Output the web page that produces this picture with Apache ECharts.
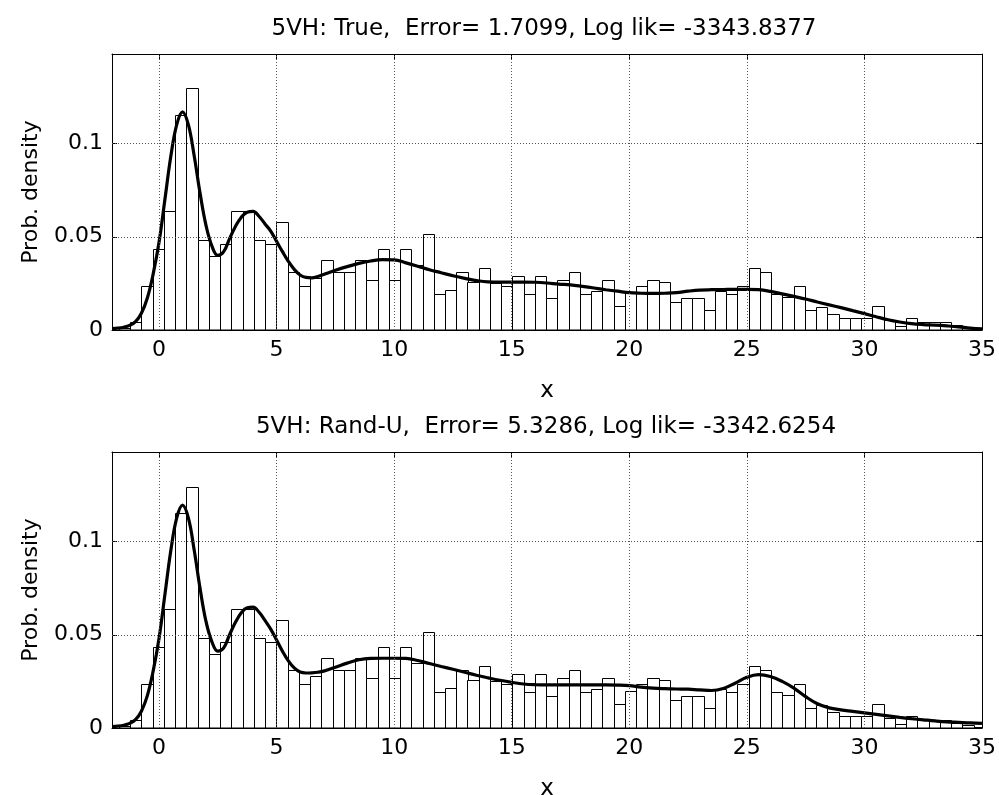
<!DOCTYPE html>
<html>
<head>
<meta charset="utf-8">
<script src="https://cdn.jsdelivr.net/npm/echarts@6/dist/echarts.min.js"></script>
<style>
html,body{margin:0;padding:0;background:#fff;}
#chart{width:999px;height:795px;}
</style>
</head>
<body>
<div id="chart"></div>
<script>
// ---------- data ----------
const titleTop = '5VH: True,  Error= 1.7099, Log lik= -3343.8377';
const titleBottom = '5VH: Rand-U,  Error= 5.3286, Log lik= -3342.6254';
const xTicks = [0, 5, 10, 15, 20, 25, 30, 35];
const xGrid = [0, 5, 10, 15, 20, 25, 30];
const yTicks = [0, 0.05, 0.1];
const yGrid = [0.05, 0.1];
const BIN_W = 0.4783;

// histogram bin centres
const binCenters = [-1.469,-0.991,-0.513,-0.034,0.444,0.922,1.401,1.879,2.357,2.836,
 3.314,3.792,4.270,4.749,5.227,5.705,6.184,6.662,7.140,7.618,
 8.097,8.575,9.053,9.532,10.010,10.488,10.967,11.445,11.923,12.401,
 12.880,13.358,13.836,14.315,14.793,15.271,15.750,16.228,16.706,17.184,
 17.663,18.141,18.619,19.098,19.576,20.054,20.532,21.011,21.489,21.967,
 22.446,22.924,23.402,23.881,24.359,24.837,25.315,25.794,26.272,26.750,
 27.229,27.707,28.185,28.664,29.142,29.620,30.098,30.577,31.055,31.533,
 32.012,32.490,32.968,33.446,33.925,34.403,34.881];
// histogram densities (same data in both panels)
const binHeights = [0.0010,0.0041,0.0234,0.0437,0.0639,0.1155,0.1295,0.0480,0.0395,0.0459,
 0.0639,0.0639,0.0480,0.0459,0.0577,0.0309,0.0234,0.0280,0.0373,0.0309,
 0.0309,0.0373,0.0266,0.0437,0.0266,0.0437,0.0350,0.0513,0.0191,0.0213,
 0.0309,0.0258,0.0330,0.0250,0.0234,0.0288,0.0191,0.0288,0.0170,0.0266,
 0.0309,0.0191,0.0210,0.0266,0.0127,0.0198,0.0234,0.0266,0.0255,0.0148,
 0.0170,0.0170,0.0105,0.0210,0.0191,0.0234,0.0330,0.0309,0.0195,0.0175,
 0.0234,0.0105,0.0125,0.0084,0.0063,0.0063,0.0063,0.0127,0.0055,0.0021,
 0.0063,0.0041,0.0041,0.0041,0.0027,0.0014,0.0005];

// fitted density, top panel (True)
const curveTopX = [-2.0,-1.75,-1.5,-1.25,-1.0,-0.75,-0.5,-0.25,0.0,0.25,0.5,0.75,1.0,1.25,1.5,1.75,2.0,2.25,2.5,2.75,
 3.0,3.25,3.5,3.75,4.0,4.25,4.5,4.75,5.0,5.25,5.5,5.75,6.0,6.25,6.5,6.75,7.0,7.5,
 8.0,8.5,9.0,9.5,10.0,10.5,11.0,11.5,12.0,12.5,13.0,13.5,14.0,14.5,15.0,15.5,16.0,16.5,17.0,17.5,18.0,18.5,
 19.0,19.5,20.0,20.5,21.0,21.5,22.0,22.5,23.0,23.5,24.0,24.5,25.0,25.5,26.0,26.5,27.0,27.5,28.0,28.5,
 29.0,29.5,30.0,30.5,31.0,31.5,32.0,32.5,33.0,33.5,34.0,34.5,35.0];
const curveTopY = [0.0008,0.0010,0.0015,0.0025,0.0045,0.0090,0.0170,0.0300,0.0470,0.0700,0.0930,0.1100,0.1170,0.1100,0.0930,0.0730,0.0560,0.0450,0.0400,0.0420,
 0.0490,0.0555,0.0605,0.0632,0.0636,0.0610,0.0570,0.0530,0.0475,0.0420,0.0368,0.0325,0.0295,0.0282,0.0280,0.0287,0.0298,0.0320,
 0.0340,0.0357,0.0370,0.0377,0.0376,0.0360,0.0342,0.0323,0.0307,0.0291,0.0277,0.0265,0.0258,0.0257,0.0257,0.0257,0.0256,0.0252,0.0246,0.0242,0.0234,0.0225,
 0.0216,0.0208,0.0200,0.0197,0.0196,0.0197,0.0200,0.0208,0.0214,0.0216,0.0217,0.0218,0.0218,0.0216,0.0207,0.0194,0.0180,0.0166,0.0150,0.0135,
 0.0120,0.0104,0.0088,0.0071,0.0055,0.0043,0.0034,0.0029,0.0026,0.0022,0.0017,0.0010,0.0006];

// fitted density, bottom panel (Rand-U)
const curveBotX = [-2.0,-1.75,-1.5,-1.25,-1.0,-0.75,-0.5,-0.25,0.0,0.25,0.5,0.75,1.0,1.25,1.5,1.75,2.0,2.25,2.5,2.75,
 3.0,3.25,3.5,3.75,4.0,4.25,4.5,4.75,5.0,5.25,5.5,5.75,6.0,6.25,6.5,6.75,7.0,7.5,
 8.0,8.5,9.0,9.5,10.0,10.5,11.0,11.5,12.0,12.5,13.0,13.5,14.0,14.5,15.0,15.5,16.0,16.5,17.0,17.5,18.0,18.5,
 19.0,19.5,20.0,20.5,21.0,21.5,22.0,22.5,23.0,23.5,24.0,24.5,25.0,25.5,26.0,26.5,27.0,27.5,28.0,28.5,
 29.0,29.5,30.0,30.5,31.0,31.5,32.0,32.5,33.0,33.5,34.0,34.5,35.0];
const curveBotY = [0.0008,0.0010,0.0015,0.0025,0.0045,0.0090,0.0172,0.0305,0.0480,0.0715,0.0950,0.1125,0.1195,0.1125,0.0950,0.0745,0.0570,0.0462,0.0412,0.0430,
 0.0500,0.0567,0.0618,0.0645,0.0648,0.0622,0.0578,0.0530,0.0472,0.0412,0.0360,0.0322,0.0300,0.0295,0.0296,0.0299,0.0305,0.0326,
 0.0348,0.0366,0.0373,0.0374,0.0374,0.0373,0.0362,0.0346,0.0330,0.0315,0.0299,0.0283,0.0269,0.0256,0.0245,0.0236,0.0232,0.0231,0.0231,0.0231,0.0231,0.0231,
 0.0231,0.0230,0.0227,0.0219,0.0214,0.0211,0.0209,0.0208,0.0204,0.0201,0.0212,0.0240,0.0272,0.0286,0.0276,0.0250,0.0214,0.0168,0.0130,0.0108,
 0.0097,0.0089,0.0081,0.0073,0.0065,0.0057,0.0050,0.0044,0.0038,0.0033,0.0030,0.0027,0.0025];

// ---------- build ----------
const FONT = 'DejaVu Sans, sans-serif';
const chart = echarts.init(document.getElementById('chart'), null, {renderer: 'canvas'});

const grids = [
  {left: 112, top: 54, width: 870, height: 276, containLabel: false, outerBoundsMode: 'none'},
  {left: 112, top: 452, width: 870, height: 276, containLabel: false, outerBoundsMode: 'none'}
];

const xAxes = [], yAxes = [], series = [];
const histData = binCenters.map((c, i) => [c, binHeights[i]]);

function renderBar(params, api) {
  const c = api.value(0), h = api.value(1);
  const p0 = api.coord([c - BIN_W / 2, h]);
  const p1 = api.coord([c + BIN_W / 2, 0]);
  const x0 = Math.round(p0[0]) + 0.5, x1 = Math.round(p1[0]) + 0.5;
  const y0 = Math.round(p0[1]) + 0.5, y1 = Math.round(p1[1]) + 0.5;
  const cs = params.coordSys;
  const r = echarts.graphic.clipRectByRect(
    {x: x0, y: y0, width: x1 - x0, height: y1 - y0},
    {x: cs.x, y: cs.y, width: cs.width, height: cs.height});
  if (!r) return;
  return {type: 'rect', shape: r, style: {fill: '#fff', stroke: '#000', lineWidth: 1}};
}

[0, 1].forEach(gi => {
  const axLine = {show: true, onZero: false, lineStyle: {color: '#000', width: 1}};
  xAxes.push({
    gridIndex: gi, type: 'value', min: -2, max: 35, position: 'bottom',
    axisLine: axLine,
    axisTick: {show: true, inside: true, length: 5, customValues: xTicks, lineStyle: {color: '#000'}},
    axisLabel: {show: true, customValues: xTicks, margin: 9, color: '#000', fontSize: 22, fontFamily: FONT},
    splitLine: {show: false},
    name: 'x', nameLocation: 'middle', nameGap: 50,
    nameTextStyle: {color: '#000', fontSize: 23, fontFamily: FONT}
  });
  xAxes.push({
    gridIndex: gi, type: 'value', min: -2, max: 35, position: 'top',
    axisLine: axLine,
    axisTick: {show: true, inside: true, length: 5, customValues: xTicks, lineStyle: {color: '#000'}},
    axisLabel: {show: false}, splitLine: {show: false}
  });
  yAxes.push({
    gridIndex: gi, type: 'value', min: 0, max: 0.148, position: 'left',
    axisLine: axLine,
    axisTick: {show: true, inside: true, length: 5, customValues: yTicks, lineStyle: {color: '#000'}},
    axisLabel: {show: true, customValues: yTicks, margin: 9, color: '#000', fontSize: 22, fontFamily: FONT},
    splitLine: {show: false},
    name: 'Prob. density', nameLocation: 'middle', nameGap: 70, nameRotate: 90,
    nameTextStyle: {color: '#000', fontSize: 22, fontFamily: FONT}
  });
  yAxes.push({
    gridIndex: gi, type: 'value', min: 0, max: 0.148, position: 'right',
    axisLine: axLine,
    axisTick: {show: true, inside: true, length: 5, customValues: yTicks, lineStyle: {color: '#000'}},
    axisLabel: {show: false}, splitLine: {show: false}
  });

  const xi = gi * 2, yi = gi * 2;
  // grid lines
  series.push({
    type: 'line', xAxisIndex: xi, yAxisIndex: yi, data: [], z: 1, silent: true,
    markLine: {
      silent: true, symbol: 'none', label: {show: false}, animation: false,
      lineStyle: {type: [1, 2], color: '#555', width: 1},
      data: xGrid.map(v => ({xAxis: v})).concat(yGrid.map(v => ({yAxis: v})))
    }
  });
  // histogram
  series.push({
    type: 'custom', xAxisIndex: xi, yAxisIndex: yi, z: 2,
    renderItem: renderBar, data: histData, silent: true
  });
  // fitted density
  const cx = gi === 0 ? curveTopX : curveBotX;
  const cy = gi === 0 ? curveTopY : curveBotY;
  series.push({
    type: 'line', xAxisIndex: xi, yAxisIndex: yi, z: 3,
    data: cx.map((x, i) => [x, cy[i]]),
    showSymbol: false, smooth: 0.4,
    lineStyle: {color: '#000', width: 3.2}, silent: true
  });
});

chart.setOption({
  animation: false,
  backgroundColor: '#fff',
  title: [
    {text: titleTop, left: 539, top: 13, textAlign: 'center',
     textStyle: {fontSize: 23, fontWeight: 'normal', color: '#000', fontFamily: FONT}},
    {text: titleBottom, left: 541, top: 411, textAlign: 'center',
     textStyle: {fontSize: 23, fontWeight: 'normal', color: '#000', fontFamily: FONT}}
  ],
  grid: grids,
  xAxis: xAxes,
  yAxis: yAxes,
  series: series
});
</script>
</body>
</html>
